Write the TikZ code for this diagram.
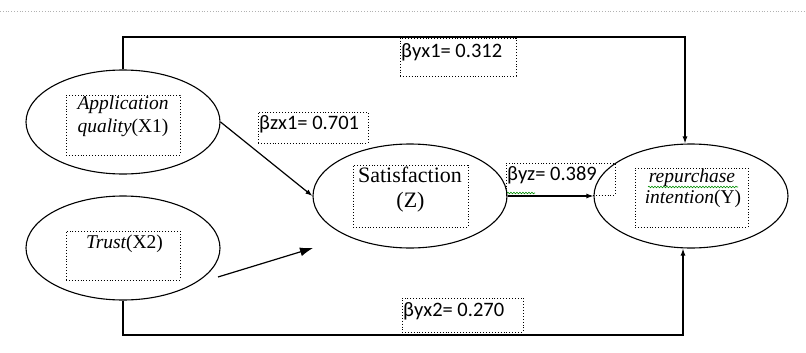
\documentclass[tikz,border=0pt]{standalone}
\usepackage{fontspec}
\newfontfamily\tnr{Liberation Serif}
\newfontfamily\calfont{Carlito}
\usetikzlibrary{arrows.meta,decorations.pathmorphing,shapes.geometric}
\begin{document}
\begin{tikzpicture}[x=1pt,y=-1pt,
  ell/.style={draw, ellipse, line width=1.1pt, minimum width=194pt, minimum height=104pt, inner sep=0pt},
  dbox/.style={draw, dotted, line width=0.9pt, inner sep=0pt},
  conn/.style={line width=1.2pt},
  tip/.style={-{Latex[length=7pt,width=5pt]}},
  bigtip/.style={-{Latex[length=13pt,width=9pt]}},
  lab/.style={font=\calfont\fontsize{20.5}{24}\selectfont, inner sep=0pt, anchor=base west},
  ttext/.style={font=\tnr\itshape\fontsize{19.5}{22}\selectfont, inner sep=0pt, anchor=base},
  rtext/.style={font=\tnr\fontsize{22}{25}\selectfont, inner sep=0pt, anchor=base},
  wavy/.style={draw=green!55!black, line width=0.6pt, decorate, decoration={snake, amplitude=0.8pt, segment length=3pt}}
]
\useasboundingbox (0,0) rectangle (806,353);
\draw[gray!60, dotted, line width=0.8pt] (0,11) -- (806,11);

% ellipses
\node[ell] (x1) at (123,122) {};
\node[ell] (x2) at (123,248) {};
\node[ell] (z) at (410,196) {};
\node[ell] (y) at (691,196) {};

% dotted inner boxes
\node[dbox, minimum width=114pt, minimum height=60pt] (bx1) at (123,125) {};
\node[dbox, minimum width=114pt, minimum height=49pt] (bx2) at (123,255.5) {};
\node[dbox, minimum width=115pt, minimum height=62pt] (bz) at (410.5,196) {};
\node[dbox, minimum width=113pt, minimum height=59pt] (by) at (691.5,197.5) {};

% texts
\node[ttext] (tx1a) at (123,110) {Application};
\node[ttext] (tx1b) at (123,132) {quality{\upshape(X1)}};
\node[ttext] (tx2) at (124.5,248) {Trust{\upshape(X2)}};
\node[rtext] (tza) at (410,182) {Satisfaction};
\node[rtext] (tzb) at (410.5,207) {(Z)};
\node[ttext] (tya) at (692,182) {repurchase};
\node[ttext] (tyb) at (693,203) {intention{\upshape(Y)}};
\draw[wavy] (648,187) -- (738,187);

% label boxes
\node[dbox, minimum width=116pt, minimum height=38pt] (byx1) at (458,57) {};
\node[dbox, minimum width=110pt, minimum height=31pt] (bzx1) at (313,127.5) {};
\node[dbox, minimum width=109pt, minimum height=32pt] (byz) at (560.5,179) {};
\node[dbox, minimum width=121pt, minimum height=34pt] (byx2) at (462.5,315) {};
\node[lab] (lyx1) at (401,58) {βyx1= 0.312};
\node[lab] (lzx1) at (259,129) {βzx1= 0.701};
\node[lab] (lyz) at (507,180) {βyz= 0.389};
\node[lab] (lyx2) at (403,316) {βyx2= 0.270};
\draw[wavy] (507,193) -- (535,193);

% connectors
\coordinate (ctop) at (685,37);
\coordinate (cbot) at (683,335);
\coordinate (a2s) at (218,277);
\coordinate (a2e) at (313,248);
\draw[conn,tip] (x1.north) |- (ctop) -- (ctop |- y.north);
\draw[conn,tip] (x2.south) |- (cbot) -- (cbot |- y.south);
\draw[conn,tip] (x1.east) -- (z.west);
\draw[conn,tip] (z.east) -- (y.west);
\draw[conn,bigtip] (a2s) -- (a2e);
\end{tikzpicture}
\end{document}
